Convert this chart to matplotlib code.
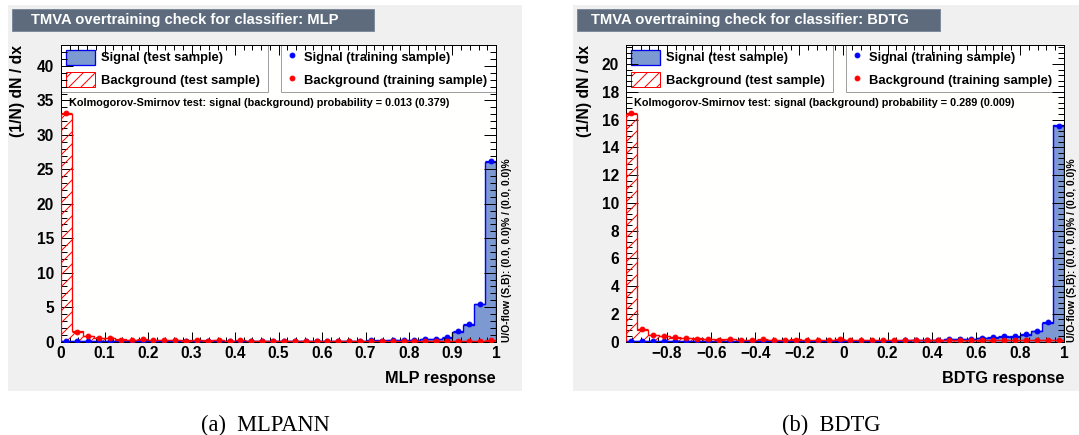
import numpy as np
import matplotlib
matplotlib.use("Agg")
import matplotlib.pyplot as plt
from matplotlib.patches import Rectangle, Patch
from matplotlib.lines import Line2D
from matplotlib.ticker import MultipleLocator

W, H = 1079, 435

# =========================
# Data
# =========================
mlp_range = (0.0, 1.0)
mlp_sig_test = [0.05, 0.05, 0.05, 0.05, 0.05, 0.04, 0.04, 0.04, 0.04, 0.04,
                0.04, 0.04, 0.04, 0.04, 0.04, 0.04, 0.05, 0.05, 0.05, 0.05,
                0.06, 0.06, 0.07, 0.07, 0.08, 0.10, 0.12, 0.12, 0.14, 0.15,
                0.18, 0.20, 0.25, 0.30, 0.35, 0.55, 1.40, 2.40, 5.40, 26.1]
mlp_sig_train = [0.03, 0.04, 0.05, 0.04, 0.06, 0.03, 0.04, 0.05, 0.03, 0.04,
                 0.05, 0.03, 0.04, 0.04, 0.05, 0.03, 0.05, 0.04, 0.06, 0.05,
                 0.05, 0.07, 0.06, 0.08, 0.07, 0.10, 0.11, 0.13, 0.15, 0.14,
                 0.20, 0.22, 0.28, 0.32, 0.36, 0.65, 1.50, 2.50, 5.50, 26.2]
mlp_bkg_test = [33.1, 1.50, 0.80, 0.50, 0.50, 0.30, 0.25, 0.25, 0.25, 0.20,
                0.20, 0.15, 0.15, 0.15, 0.15, 0.12, 0.12, 0.12, 0.10, 0.10,
                0.10, 0.10, 0.10, 0.10, 0.08, 0.10, 0.08, 0.08, 0.08, 0.08,
                0.10, 0.08, 0.10, 0.10, 0.08, 0.10, 0.10, 0.10, 0.12, 0.12]
mlp_bkg_train = [33.2, 1.40, 0.75, 0.50, 0.55, 0.25, 0.20, 0.30, 0.22, 0.15,
                 0.20, 0.12, 0.20, 0.12, 0.15, 0.10, 0.15, 0.10, 0.08, 0.12,
                 0.10, 0.08, 0.12, 0.10, 0.10, 0.08, 0.12, 0.08, 0.10, 0.10,
                 0.12, 0.08, 0.12, 0.08, 0.10, 0.12, 0.08, 0.10, 0.10, 0.15]

bdtg_range = (-0.986, 1.0)
bdtg_sig_test = [0.03, 0.03, 0.03, 0.03, 0.03, 0.03, 0.03, 0.03, 0.03, 0.03,
                 0.03, 0.03, 0.03, 0.03, 0.04, 0.04, 0.04, 0.04, 0.04, 0.04,
                 0.05, 0.05, 0.05, 0.06, 0.06, 0.07, 0.10, 0.12, 0.13, 0.15,
                 0.17, 0.20, 0.22, 0.25, 0.30, 0.35, 0.50, 0.75, 1.35, 15.6]
bdtg_sig_train = [0.02, 0.03, 0.02, 0.03, 0.02, 0.03, 0.02, 0.03, 0.02, 0.03,
                  0.03, 0.02, 0.03, 0.03, 0.03, 0.04, 0.03, 0.04, 0.04, 0.05,
                  0.04, 0.05, 0.06, 0.05, 0.06, 0.08, 0.12, 0.10, 0.14, 0.15,
                  0.20, 0.18, 0.25, 0.30, 0.40, 0.42, 0.52, 0.78, 1.38, 15.5]
bdtg_bkg_test = [16.4, 0.85, 0.45, 0.38, 0.28, 0.25, 0.22, 0.18, 0.16, 0.15,
                 0.14, 0.14, 0.13, 0.13, 0.13, 0.15, 0.12, 0.12, 0.12, 0.11,
                 0.12, 0.10, 0.10, 0.10, 0.10, 0.10, 0.10, 0.10, 0.10, 0.10,
                 0.10, 0.10, 0.10, 0.10, 0.09, 0.10, 0.10, 0.08, 0.08, 0.08]
bdtg_bkg_train = [16.5, 0.88, 0.45, 0.40, 0.30, 0.28, 0.20, 0.15, 0.12, 0.15,
                  0.12, 0.12, 0.20, 0.10, 0.12, 0.10, 0.12, 0.10, 0.12, 0.20,
                  0.08, 0.10, 0.08, 0.08, 0.10, 0.08, 0.08, 0.08, 0.08, 0.08,
                  0.10, 0.08, 0.10, 0.10, 0.08, 0.08, 0.08, 0.08, 0.08, 0.08]

# TMVA style colours
C_CANVAS = "#f0f0f0"
C_FRAME = "#fffffd"
C_TITLEBOX = "#5d6b7d"
C_TITLEBORDER = "#7d8b9d"
C_SIG_LINE = "#0000ee"
C_SIG_FILL = "#7d99d1"
C_BKG = "#ff0000"

FONT = "Liberation Sans"

plt.rcParams["font.family"] = [FONT, "DejaVu Sans"]
plt.rcParams["font.weight"] = "bold"
plt.rcParams["hatch.linewidth"] = 1.0
plt.rcParams["hatch.color"] = C_BKG


def fig_box(x0, y0, x1, y1):
    # pixel box (top-left origin) -> figure fraction rect
    return [x0 / W, 1 - y1 / H, (x1 - x0) / W, (y1 - y0) / H]


def draw_panel(fig, px, title, xlabel, caption, ks, rng, sig_test, sig_train,
               bkg_test, bkg_train, ymax, xmajor, xminor, ymajor, yminor,
               xticks_fmt):
    # px: dict with pixel positions of this panel
    gx0, gx1 = px["grey"]
    fig.add_artist(Rectangle((gx0 / W, 1 - 391 / H), (gx1 - gx0) / W,
                             (391 - 5) / H, transform=fig.transFigure,
                             facecolor=C_CANVAS, edgecolor="none", zorder=0))
    tx0, tx1 = px["title"]
    fig.add_artist(Rectangle((tx0 / W, 1 - 31 / H), (tx1 - tx0) / W, 22 / H,
                             transform=fig.transFigure, facecolor=C_TITLEBOX,
                             edgecolor=C_TITLEBORDER, lw=1, zorder=1))
    fig.text(px["title_text"] / W, 1 - 20 / H, title, color="white",
             fontsize=14.8, fontweight="bold", ha="left", va="center")

    ax0, ax1 = px["axes"]
    ax = fig.add_axes(fig_box(ax0, 45, ax1, 341.5))
    ax.set_facecolor(C_FRAME)
    ax.set_axisbelow(False)

    edges = np.linspace(rng[0], rng[1], len(sig_test) + 1)
    centers = 0.5 * (edges[:-1] + edges[1:])
    half = 0.5 * np.diff(edges)

    ax.stairs(sig_test, edges, fill=True, facecolor=C_SIG_FILL,
              edgecolor=C_SIG_LINE, lw=1.4, zorder=2)
    ax.stairs(bkg_test, edges, fill=True, facecolor="none",
              edgecolor=C_BKG, hatch="//", lw=1.3, zorder=3)
    ax.errorbar(centers, sig_train, xerr=half, fmt="o", color="#0000ff",
                ms=4.8, elinewidth=1.3, capsize=0, zorder=4)
    ax.errorbar(centers, bkg_train, xerr=half, fmt="o", color=C_BKG,
                ms=4.8, elinewidth=1.3, capsize=0, zorder=5)

    ax.set_xlim(rng)
    ax.set_ylim(0, ymax)
    ax.xaxis.set_major_locator(MultipleLocator(xmajor))
    ax.xaxis.set_minor_locator(MultipleLocator(xminor))
    ax.yaxis.set_major_locator(MultipleLocator(ymajor))
    ax.yaxis.set_minor_locator(MultipleLocator(yminor))
    ax.xaxis.set_major_formatter(xticks_fmt)
    ax.yaxis.set_major_formatter(lambda v, p: f"{v:g}")
    ax.tick_params(which="both", direction="in", top=True, right=True,
                   width=1, labelsize=15.5)
    ax.tick_params(axis="x", which="major", length=10, pad=5)
    ax.tick_params(axis="x", which="minor", length=5)
    ax.tick_params(axis="y", which="major", length=12, pad=7)
    ax.tick_params(axis="y", which="minor", length=6)
    for lab in ax.get_xticklabels() + ax.get_yticklabels():
        lab.set_fontweight("bold")
    for s in ax.spines.values():
        s.set_linewidth(1)

    # legends
    aw = ax1 - ax0
    l1x1, l2x0 = px["legends"]
    leg_kw = dict(loc="upper left", mode="expand", borderaxespad=0,
                  fancybox=False, edgecolor="#a0a0a0", framealpha=1,
                  fontsize=13, handleheight=1.4, handletextpad=0.45,
                  labelspacing=0.6, borderpad=0.35)
    leg1 = ax.legend(
        handles=[Patch(facecolor=C_SIG_FILL, edgecolor=C_SIG_LINE, lw=1.3),
                 Patch(facecolor="white", edgecolor=C_BKG, hatch="//", lw=1)],
        labels=["Signal (test sample)", "Background (test sample)"],
        bbox_to_anchor=(0, 0, (l1x1 - ax0) / aw, 1), handlelength=2.3,
        **leg_kw)
    leg1.get_frame().set_linewidth(1)
    leg1.set_zorder(2.4)
    ax.add_artist(leg1)
    mk = dict(marker="o", linestyle="none", ms=4.8)
    leg2 = ax.legend(
        handles=[Line2D([], [], color="#0000ff", **mk),
                 Line2D([], [], color=C_BKG, **mk)],
        labels=["Signal (training sample)", "Background (training sample)"],
        bbox_to_anchor=((l2x0 - ax0) / aw, 0, (ax1 - l2x0) / aw, 1),
        handlelength=1.0, **leg_kw)
    leg2.get_frame().set_linewidth(1)
    leg2.set_zorder(2.4)

    ax.text((px["ks"] - ax0) / aw, (341.5 - 103) / 296.5,
            "Kolmogorov-Smirnov test: signal (background) probability = " + ks,
            transform=ax.transAxes, fontsize=10.9, fontweight="bold",
            ha="left", va="center", zorder=6)

    ax.text(1.0, (341.5 - 378) / 296.5, xlabel, transform=ax.transAxes,
            fontsize=16.2, fontweight="bold", ha="right", va="center")
    fig.text(px["ylabel"] / W, 1 - 45 / H, "(1/N) dN / dx", rotation=90,
             fontsize=15.7, fontweight="bold", ha="center", va="top")
    fig.text(px["uoflow"] / W, 1 - 342 / H,
             "U/O-flow (S,B): (0.0, 0.0)% / (0.0, 0.0)%", rotation=90,
             fontsize=10.3, fontweight="bold", ha="center", va="bottom")
    fig.text(px["caption"] / W, 1 - 425 / H, caption,
             family="Liberation Serif", fontweight="normal", fontsize=22.5,
             ha="center", va="center")
    return ax


fig = plt.figure(figsize=(W / 72, H / 72), dpi=72)
fig.patch.set_facecolor("white")

left_px = dict(grey=(7.6, 522), title=(12, 374), title_text=31, axes=(61, 496),
               legends=(268, 281), ks=69, ylabel=18, uoflow=507, caption=265)
right_px = dict(grey=(573, 1079), title=(577, 940), title_text=591,
                axes=(626, 1064), legends=(833, 846), ks=634, ylabel=585,
                uoflow=1072, caption=831)

draw_panel(fig, left_px, "TMVA overtraining check for classifier: MLP",
           "MLP response", "(a)  MLPANN", "0.013 (0.379)", mlp_range,
           mlp_sig_test, mlp_sig_train, mlp_bkg_test, mlp_bkg_train,
           43.05, 0.1, 0.02, 5, 1, lambda v, p: f"{v:g}")

draw_panel(fig, right_px, "TMVA overtraining check for classifier: BDTG",
           "BDTG response", "(b)  BDTG", "0.289 (0.009)", bdtg_range,
           bdtg_sig_test, bdtg_sig_train, bdtg_bkg_test, bdtg_bkg_train,
           21.37, 0.2, 0.04, 2, 0.4,
           lambda v, p: ("0" if abs(v) < 1e-9 else f"{v:g}").replace("-", "\u2212"))

fig.savefig("out.png", dpi=72, facecolor="white")
